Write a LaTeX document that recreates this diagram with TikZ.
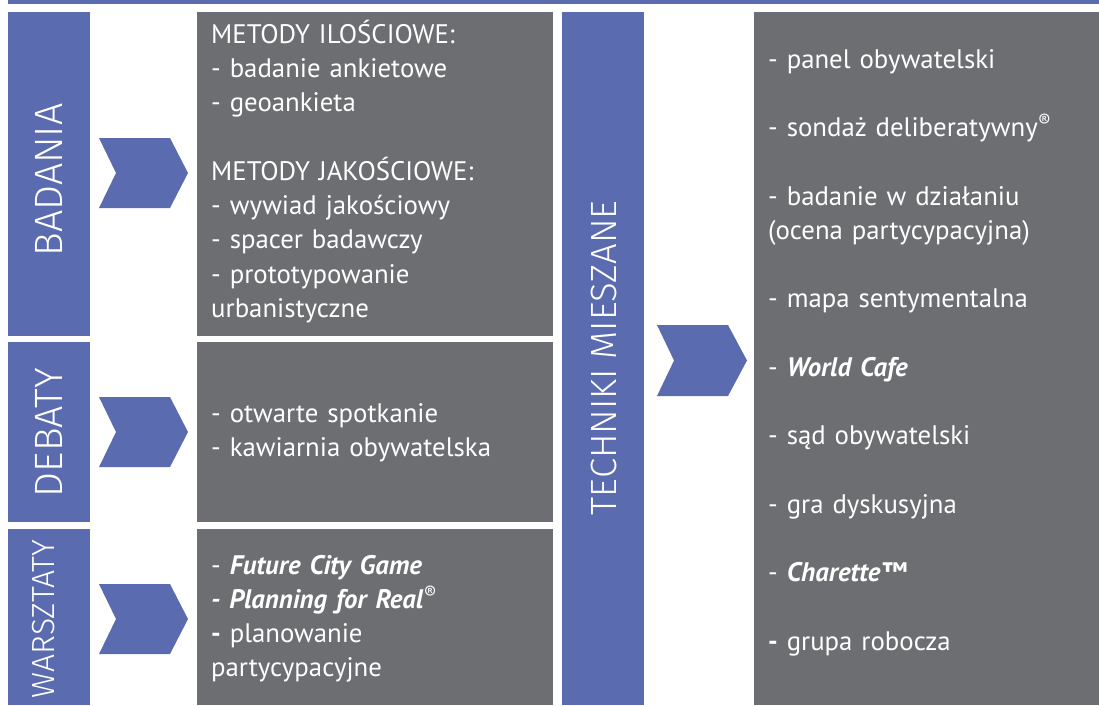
\documentclass[tikz,border=0pt]{standalone}
\usepackage{fontspec}
\setmainfont{PT Sans}
\newfontfamily\lightfont{Fira Sans Light}
\definecolor{tabblue}{HTML}{5B6BAF}
\definecolor{tabgrey}{HTML}{6D6E72}

\begin{document}
\begin{tikzpicture}[x=1pt, y=-1pt,
    bluebox/.style={fill=tabblue, inner sep=0pt, anchor=north west},
    greybox/.style={fill=tabgrey, inner sep=0pt, anchor=north west},
    sidetitle/.style={text=white, rotate=90, inner sep=0pt, font=\lightfont\fontsize{#1}{#1}\selectfont},
    itemtext/.style={text=white, align=left, anchor=base west, inner sep=0pt, text width=335pt, font=\fontsize{26.8}{34.3}\selectfont}]
    \useasboundingbox (0,0) rectangle (1099,705);
    \fill[tabblue] (8,0) rectangle (1099,4);

    % left column
    \node[bluebox, minimum width=82, minimum height=324] (badania) at (8,12) {};
    \node[bluebox, minimum width=82, minimum height=180] (debaty) at (8,342) {};
    \node[bluebox, minimum width=82, minimum height=176] (warsztaty) at (8,529) {};
    \node[sidetitle=39.5] (badaniaLbl) at (48.5,180) {BADANIA};
    \node[sidetitle=39.5] (debatyLbl) at (48.5,432.5) {DEBATY};
    \node[sidetitle=32] (warsztatyLbl) at (43.5,619) {WARSZTATY};

    \fill[tabblue] (99,138) -- (170,138) -- (188,173) -- (170,208) -- (99,208) -- (116,173) -- cycle;
    \fill[tabblue] (99,397) -- (170,397) -- (188,432) -- (170,467) -- (99,467) -- (116,432) -- cycle;
    \fill[tabblue] (99,584) -- (170,584) -- (188,619) -- (170,654) -- (99,654) -- (116,619) -- cycle;

    \node[greybox, minimum width=356, minimum height=324] (badaniaBox) at (197,12) {};
    \node[greybox, minimum width=356, minimum height=180] (debatyBox) at (197,342) {};
    \node[greybox, minimum width=356, minimum height=176] (warsztatyBox) at (197,529) {};

    \node[itemtext] (badaniaTxt) at (211,43) {METODY ILOŚCIOWE:\\
        - badanie ankietowe\\
        - geoankieta\\[34.3pt]
        METODY JAKOŚCIOWE:\\
        - wywiad jakościowy\\
        - spacer badawczy\\
        - prototypowanie\\
        urbanistyczne};
    \node[itemtext] (debatyTxt) at (211,422) {- otwarte spotkanie\\
        - kawiarnia obywatelska};
    \node[itemtext] (warsztatyTxt) at (211,574) {- \textbf{\textit{Future City Game}}\\
        \textbf{\textit{- Planning for Real}}\textsuperscript{®}\\
        \textbf{-} planowanie\\
        partycypacyjne};

    % middle column
    \node[bluebox, minimum width=82, minimum height=693] (mieszane) at (562,12) {};
    \node[sidetitle=36.5] (mieszaneLbl) at (603.5,358) {TECHNIKI MIESZANE};
    \fill[tabblue] (657,325) -- (728,325) -- (747,360.5) -- (728,396) -- (657,396) -- (674,360.5) -- cycle;

    % right column
    \node[greybox, minimum width=345, minimum height=693] (technikiBox) at (754,12) {};
    \node[itemtext, text width=325pt] (technikiTxt) at (768,68) {- panel obywatelski\\[34.2pt]
        - sondaż deliberatywny\textsuperscript{®}\\[34.2pt]
        - badanie w działaniu\\
        (ocena partycypacyjna)\\[34.2pt]
        - mapa sentymentalna\\[34.2pt]
        - \textbf{\textit{World Cafe}}\\[34.2pt]
        - sąd obywatelski\\[34.2pt]
        - gra dyskusyjna\\[34.2pt]
        - \textbf{\textit{Charette™}}\\[34.2pt]
        \textbf{-} grupa robocza};
\end{tikzpicture}
\end{document}
